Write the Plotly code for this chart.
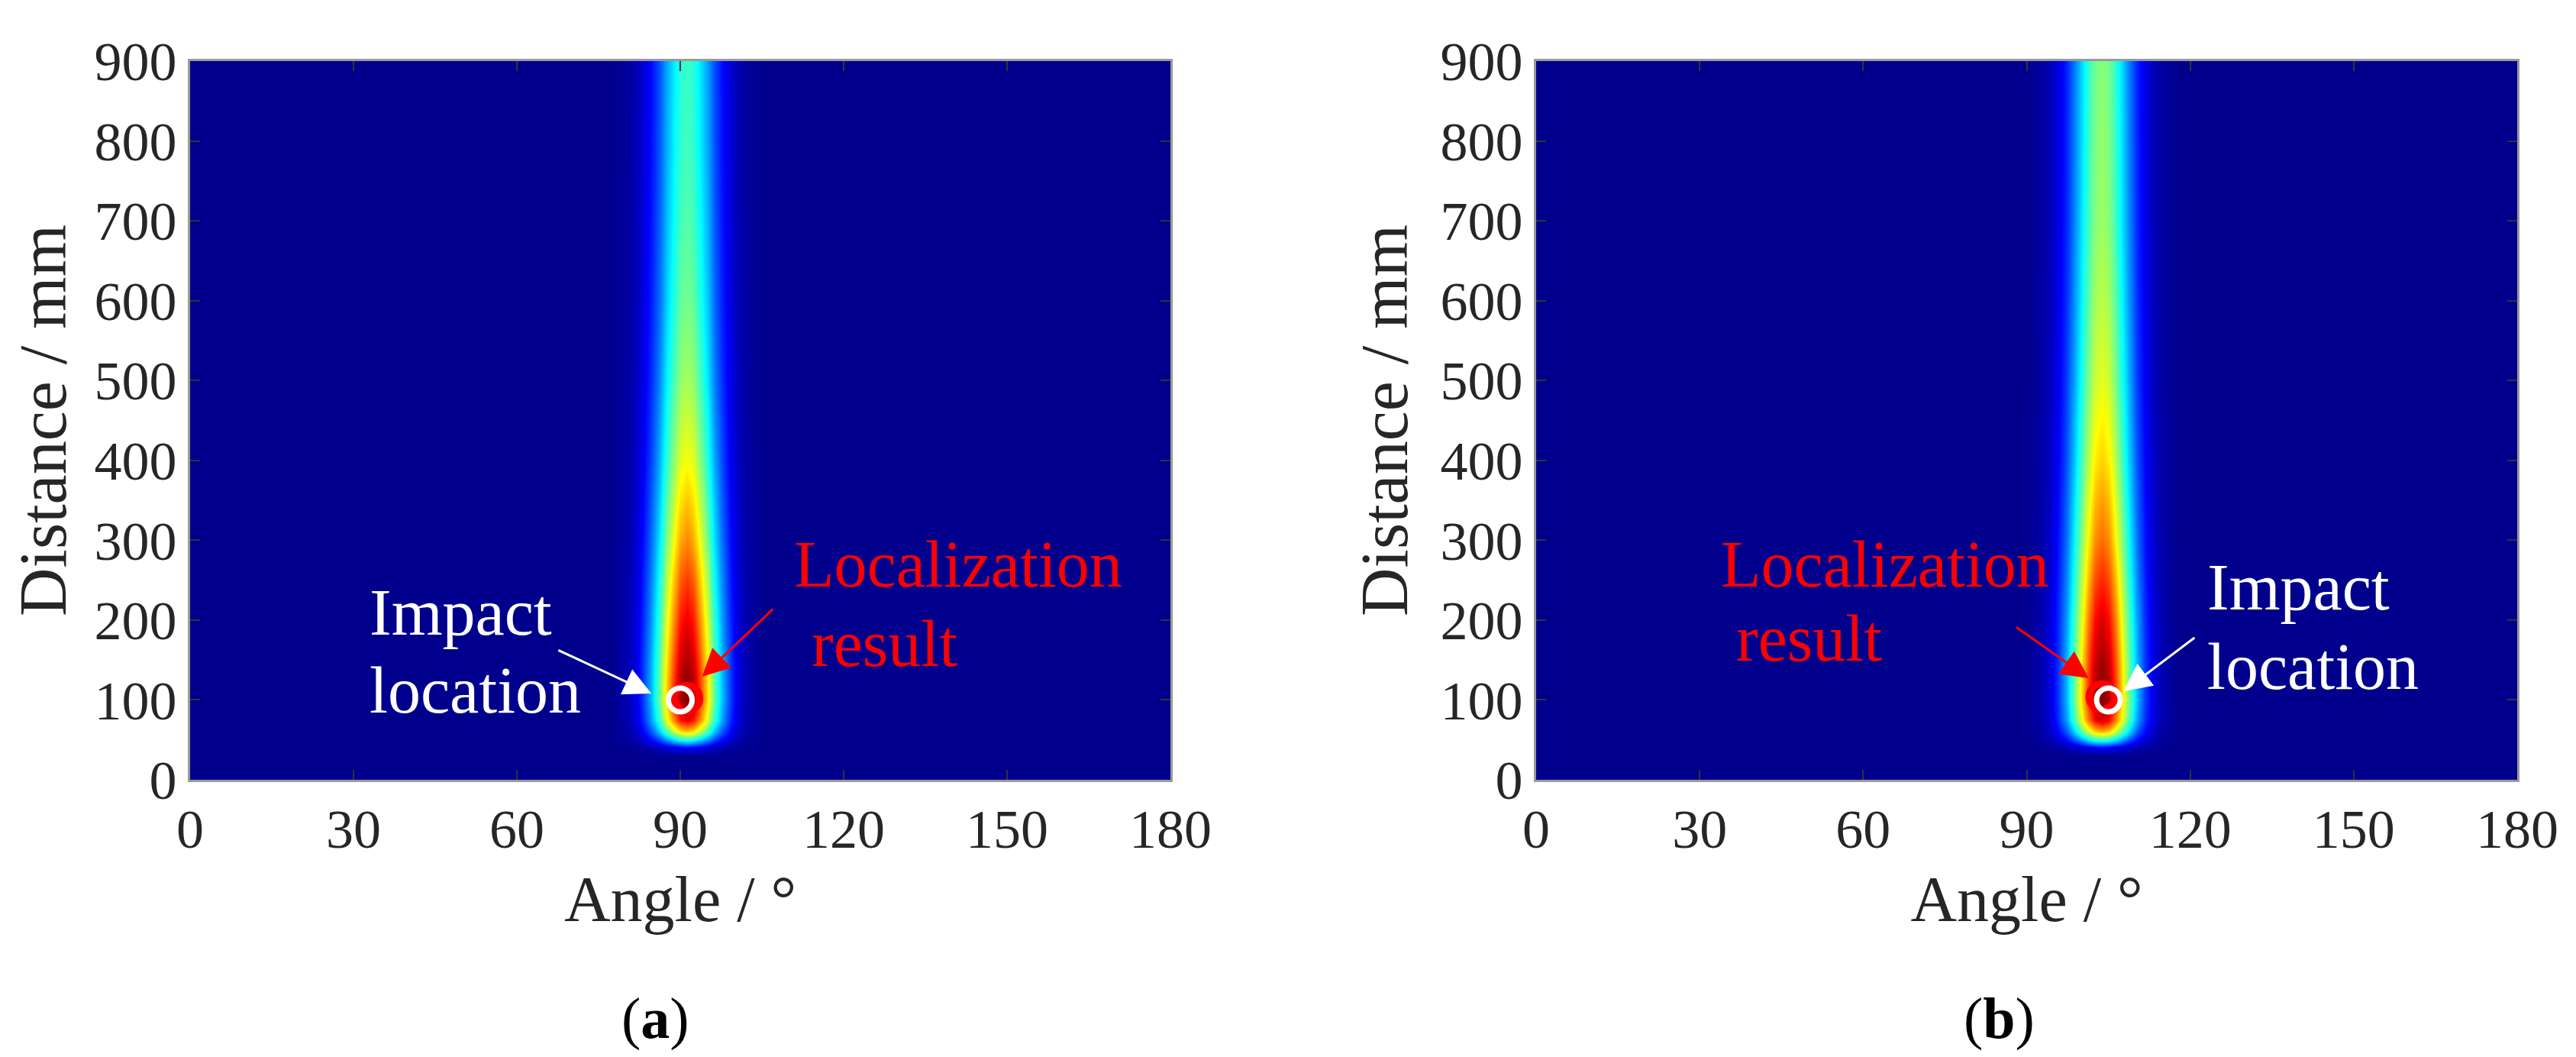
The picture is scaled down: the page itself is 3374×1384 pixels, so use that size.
import plotly.graph_objects as go

# ---------------- data ----------------
angle_ticks = [0, 30, 60, 90, 120, 150, 180]
distance_ticks = [0, 100, 200, 300, 400, 500, 600, 700, 800, 900]

# rows of the intensity map (distance, mm) and the peak value on each row
distance_rows = [0, 30, 40, 50, 60, 75, 100, 125, 150, 200, 250, 300, 400, 500, 600, 700, 800, 900]
peak_a = [0, 0, 0.12, 0.40, 0.68, 0.90, 1.0, 0.99, 0.96, 0.89, 0.82, 0.74, 0.62, 0.54, 0.49, 0.46, 0.44, 0.43]
peak_b = [0, 0, 0.12, 0.42, 0.70, 0.92, 1.0, 0.99, 0.97, 0.91, 0.84, 0.77, 0.67, 0.60, 0.56, 0.53, 0.52, 0.51]

# transverse beam profile (relative to the peak) at angle offsets from the beam centre
beam_offsets = [-14, -11, -9.5, -8, -6.5, -5, -3.8, -2.5, -1.2, 0,
                1.2, 2.5, 3.8, 5, 6.5, 8, 9.5, 11, 14]
beam_profile = [0, 0.04, 0.09, 0.18, 0.31, 0.48, 0.65, 0.82, 0.955, 1.0,
                0.955, 0.82, 0.65, 0.48, 0.31, 0.18, 0.09, 0.04, 0]
beam_center_a = 91.2
beam_center_b = 103.8

impact_a = [90, 100]
result_a = [91.2, 102]
impact_b = [105, 100]
result_b = [103.8, 104]

FONT = "Liberation Serif"
JET = [[0.0, "rgb(0,0,140)"], [0.125, "rgb(0,0,255)"], [0.375, "rgb(0,255,255)"],
       [0.625, "rgb(255,255,0)"], [0.875, "rgb(255,0,0)"], [1.0, "rgb(128,0,0)"]]


def build_grid(center, peaks):
    xs = [0] + [center + o for o in beam_offsets] + [180]
    prof = [0] + beam_profile + [0]
    z = [[p * q for q in prof] for p in peaks]
    return xs, z


fig = go.Figure()

for k, (center, peaks, imp, res) in enumerate(
        [(beam_center_a, peak_a, impact_a, result_a), (beam_center_b, peak_b, impact_b, result_b)]):
    xs, z = build_grid(center, peaks)
    xa = "x" if k == 0 else "x2"
    ya = "y" if k == 0 else "y2"
    fig.add_trace(go.Heatmap(x=xs, y=distance_rows, z=z, colorscale=JET, zmin=0, zmax=1,
                             zsmooth="best", showscale=False, xaxis=xa, yaxis=ya,
                             hoverinfo="skip"))
    fig.add_trace(go.Scatter(x=[res[0]], y=[res[1]], mode="markers", xaxis=xa, yaxis=ya,
                             marker=dict(size=34, color="rgba(0,0,0,0)",
                                         line=dict(color="rgb(255,0,0)", width=9)),
                             showlegend=False, hoverinfo="skip"))
    fig.add_trace(go.Scatter(x=[imp[0]], y=[imp[1]], mode="markers", xaxis=xa, yaxis=ya,
                             marker=dict(size=31, color="rgba(0,0,0,0)",
                                         line=dict(color="white", width=7)),
                             showlegend=False, hoverinfo="skip"))

W, H = 3374, 1384
L, R, T, B = 241, 85, 72, 371
PW, PH = W - L - R, H - T - B

axis_common = dict(showgrid=False, zeroline=False, showline=True, linecolor="#9a9a9a",
                   linewidth=3, mirror="ticks", ticks="inside", ticklen=13, tickwidth=2,
                   tickcolor="#333333", automargin=False,
                   tickfont=dict(family=FONT, size=72, color="#262626"))
xtitle = dict(text="Angle / °", font=dict(family=FONT, size=84, color="#262626"), standoff=22)
ytitle = dict(text="Distance / mm", font=dict(family=FONT, size=88, color="#262626"), standoff=14)

fig.update_layout(
    width=W, height=H, margin=dict(l=L, r=R, t=T, b=B, pad=0), autosize=False,
    paper_bgcolor="white", plot_bgcolor="white", showlegend=False,
    xaxis=dict(domain=[0, (1525 - L) / PW], anchor="y", range=[0, 180], tickvals=angle_ticks,
               title=xtitle, **axis_common),
    yaxis=dict(domain=[0, 1], anchor="x", range=[0, 900], tickvals=distance_ticks,
               title=ytitle, **axis_common),
    xaxis2=dict(domain=[(2004 - L) / PW, 1], anchor="y2", range=[0, 180], tickvals=angle_ticks,
                title=xtitle, **axis_common),
    yaxis2=dict(domain=[0, 1], anchor="x2", range=[0, 900], tickvals=distance_ticks,
                title=ytitle, **axis_common),
)

ann = []


def label(text, x, y, xr, yr, color):
    ann.append(dict(text=text, x=x, y=y, xref=xr, yref=yr, showarrow=False, xanchor="left",
                    yanchor="middle", font=dict(family=FONT, size=86, color=color)))


def arrow(x, y, ax, ay, xr, yr, color, w):
    ann.append(dict(text="", x=x, y=y, ax=ax, ay=ay, xref=xr, yref=yr, axref=xr, ayref=yr,
                    showarrow=True, arrowhead=2, arrowsize=2.4, arrowwidth=w, arrowcolor=color,
                    standoff=0))


# panel (a)
label("Impact", 32.7, 209, "x", "y", "white")
label("location", 32.7, 112, "x", "y", "white")
label("Localization", 110.6, 270, "x", "y", "rgb(255,0,0)")
label("result", 113.8, 170, "x", "y", "rgb(255,0,0)")
arrow(84.7, 108, 67.4, 163, "x", "y", "white", 3)
arrow(94.0, 129, 107.2, 215, "x", "y", "rgb(255,0,0)", 3)

# panel (b)
label("Localization", 33.6, 270, "x2", "y2", "rgb(255,0,0)")
label("result", 36.4, 177, "x2", "y2", "rgb(255,0,0)")
label("Impact", 122.8, 241, "x2", "y2", "white")
label("location", 122.8, 142, "x2", "y2", "white")
arrow(101.4, 127, 87.9, 192, "x2", "y2", "rgb(255,0,0)", 3)
arrow(107.8, 111, 121.0, 179, "x2", "y2", "white", 3)

# sub-figure labels
for txt, px in [("(<b>a</b>)", 850), ("(<b>b</b>)", 2610)]:
    ann.append(dict(text=txt, x=(px - L) / PW, y=(T + PH - 1325) / PH, xref="paper", yref="paper",
                    showarrow=False, xanchor="center", yanchor="middle",
                    font=dict(family=FONT, size=76, color="black")))

fig.update_layout(annotations=ann)
fig.write_html("out.html")
